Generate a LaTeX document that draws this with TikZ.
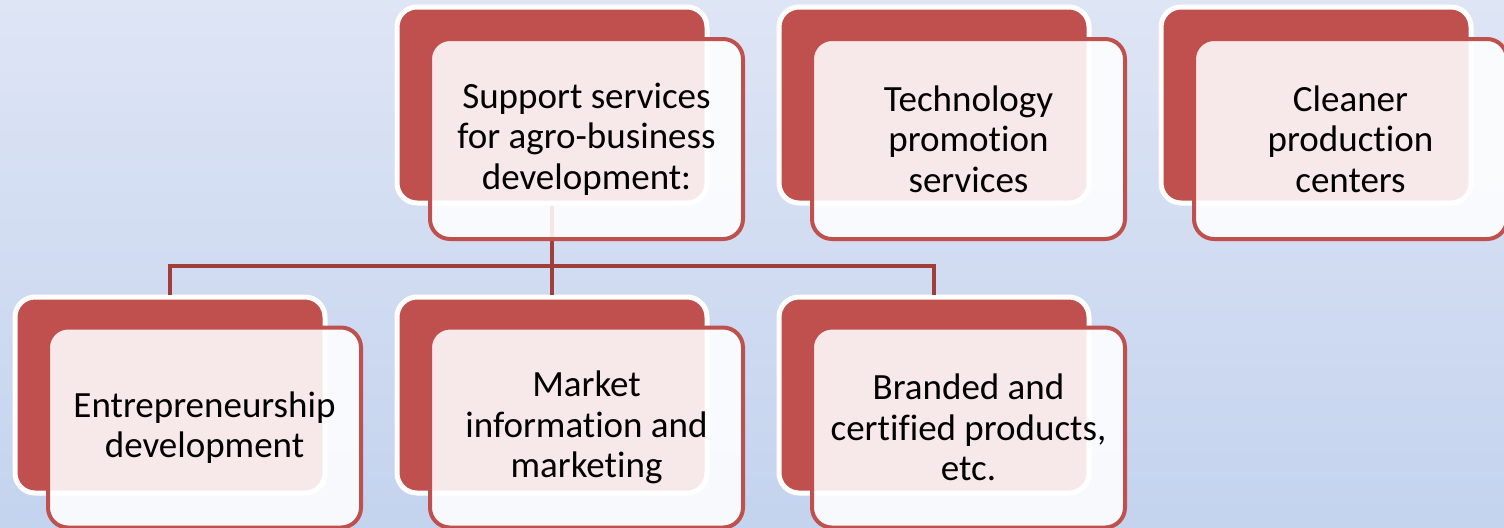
\documentclass[tikz,border=0pt]{standalone}
\usepackage{fontspec}
\setmainfont{Carlito}[Ligatures=NoCommon]
\definecolor{boxred}{RGB}{192,80,77}
\definecolor{linkred}{RGB}{160,62,60}
\definecolor{bgtop}{RGB}{222,229,245}
\definecolor{bgbot}{RGB}{196,211,238}
\begin{document}
\begin{tikzpicture}[x=0.5pt,y=-0.5pt,
  backbox/.style={rectangle, rounded corners=10pt, fill=boxred, draw=white, line width=2.5pt,
    minimum width=155pt, minimum height=98pt, inner sep=0pt},
  frontbox/.style={rectangle, rounded corners=10pt, fill=white, fill opacity=0.88, text opacity=1,
    draw=boxred, draw opacity=1, line width=2pt, minimum width=156.5pt, minimum height=100pt,
    align=center, font=\fontsize{18.5pt}{20.2pt}\selectfont, inner sep=0pt},
  link/.style={draw=linkred, line width=2pt}]
\shade[top color=bgtop, bottom color=bgbot] (0,0) rectangle (1504,527);
\useasboundingbox (0,0) rectangle (1504,527);
% back boxes
\node[backbox] (b2) at (552,105) {};
\node[backbox] (b3) at (934,105) {};
\node[backbox] (b4) at (1316,105) {};
\node[backbox] (c1) at (170,395) {};
\node[backbox] (c2) at (552,395) {};
\node[backbox] (c3) at (934,395) {};
% connectors
\coordinate (bus) at (552,266);
\draw[link] (b2.south) -- (bus);
\draw[link] (bus) -| (c1.north);
\draw[link] (bus) -- (c2.north);
\draw[link] (bus) -| (c3.north);
% front boxes
\node[frontbox] (f2) at (586.5,139) {Support services\\for agro-business\\development:};
\node[frontbox] (f3) at (968.5,139) {Technology\\promotion\\services};
\node[frontbox] (f4) at (1350.5,139) {Cleaner\\production\\centers};
\node[frontbox] (g1) at (204.5,427.5) {Entrepreneurship\\development};
\node[frontbox] (g2) at (586.5,427.5) {Market\\information and\\marketing};
\node[frontbox] (g3) at (968.5,427.5) {Branded and\\certified products,\\etc.};
\end{tikzpicture}
\end{document}
